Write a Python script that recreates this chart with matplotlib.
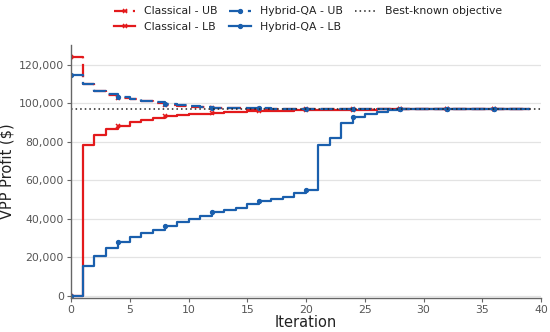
import matplotlib
matplotlib.use("Agg")
import matplotlib.pyplot as plt
from matplotlib.ticker import FuncFormatter
import numpy as np

iterations = list(range(0, 40))

classical_ub = [124000, 110000, 106200, 104500, 103000, 102200, 101200, 100200, 99400, 98800,
                98300, 97900, 97700, 97500, 97400, 97300, 97250, 97200, 97150, 97100,
                97080, 97060, 97040, 97020, 97010, 97000, 97000, 97000, 97000, 97000,
                97000, 97000, 97000, 97000, 97000, 97000, 97000, 97000, 97000, 97000]
classical_lb = [0, 78500, 83500, 86500, 88300, 90300, 91500, 92500, 93400, 93900,
                94300, 94700, 95000, 95300, 95600, 95800, 96000, 96200, 96300, 96400,
                96500, 96600, 96650, 96700, 96750, 96800, 96850, 96900, 96950, 97000,
                97000, 97000, 97000, 97000, 97000, 97000, 97000, 97000, 97000, 97000]
hybrid_ub = [115000, 110000, 106500, 104800, 103300, 102500, 101500, 100500, 99600, 99000,
             98500, 98000, 97800, 97600, 97500, 97400, 97350, 97300, 97250, 97200,
             97150, 97100, 97100, 97050, 97050, 97000, 97000, 97000, 97000, 97000,
             97000, 97000, 97000, 97000, 97000, 97000, 97000, 97000, 97000, 97000]
hybrid_lb = [0, 15500, 20400, 24600, 27700, 30400, 32500, 34400, 36300, 38200,
             40000, 41400, 43300, 44500, 45700, 47600, 49000, 50200, 51400, 53200,
             54700, 78300, 82200, 89600, 93000, 94600, 95600, 96500, 97000, 97000,
             97000, 97000, 97000, 97000, 97000, 97000, 97000, 97000, 97000, 97000]
best_known = 97000

red = '#e31a1c'
blue = '#1a5fad'

fig = plt.figure(figsize=(5.5, 3.32), dpi=100)
ax = fig.add_axes([0.129, 0.102, 0.855, 0.762])

dash = (0, (6, 2.5))
ax.plot(iterations, classical_ub, color=red, lw=1.6, ls=dash, drawstyle='steps-post',
        marker='x', ms=3.2, mew=1.1, markevery=4, label='Classical - UB')
ax.plot(iterations, classical_lb, color=red, lw=1.6, ls='-', drawstyle='steps-post',
        marker='x', ms=3.2, mew=1.1, markevery=4, label='Classical - LB')
ax.plot(iterations, hybrid_ub, color=blue, lw=1.6, ls=dash, drawstyle='steps-post',
        marker='o', ms=2.8, markevery=4, label='Hybrid-QA - UB')
ax.plot(iterations, hybrid_lb, color=blue, lw=1.6, ls='-', drawstyle='steps-post',
        marker='o', ms=2.8, markevery=4, label='Hybrid-QA - LB')
ax.axhline(best_known, color='#222222', lw=1.1, ls=(0, (1, 2)), label='Best-known objective')

ax.set_xlim(0, 40)
ax.set_ylim(-1300, 130300)
ax.set_xticks(range(0, 41, 5))
ax.set_yticks(range(0, 120001, 20000))
ax.yaxis.set_major_formatter(FuncFormatter(lambda v, p: f'{int(v):,}'))
ax.grid(axis='y', color='#e3e3e3', lw=0.9)
ax.set_axisbelow(True)
for s in ['top', 'right']:
    ax.spines[s].set_visible(False)
for s in ['left', 'bottom']:
    ax.spines[s].set_color('#666666')
    ax.spines[s].set_linewidth(1.0)
ax.tick_params(colors='#666666', labelcolor='#555555', labelsize=7.8, length=3, pad=2)
ax.set_xlabel('Iteration', fontsize=10.5, color='#222222', labelpad=0)
ax.set_ylabel('VPP Profit ($)', fontsize=10.5, color='#222222', labelpad=3)

fig.legend(loc='upper left', bbox_to_anchor=(0.189, 1.01), ncol=3, frameon=False,
           fontsize=7.8, handlelength=2.0, columnspacing=1.1, labelspacing=0.5,
           handletextpad=0.8, labelcolor='#222222')

fig.savefig('out.png', dpi=100)
